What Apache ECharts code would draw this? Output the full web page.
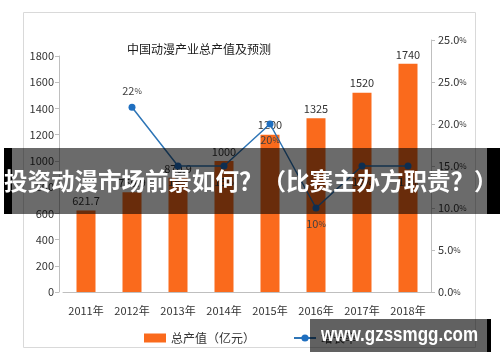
<!DOCTYPE html>
<html><head><meta charset="utf-8">
<script src="https://cdn.jsdelivr.net/npm/echarts@6/dist/echarts.min.js"></script>
<style>html,body{margin:0;padding:0;background:#fff}#c{width:500px;height:362px}</style>
</head><body><div id="c"></div>
<script>
const categories = ['2011年','2012年','2013年','2014年','2015年','2016年','2017年','2018年'];
const outputValues = [621.7, 759.9, 870.9, 1000, 1200, 1325, 1520, 1740];
const growthRates = [null, 22, 15, 15, 20, 10, 15, 15];
const growthLabelPos = ['bottom','top','bottom','bottom','bottom','bottom','bottom','bottom'];
const rightTickLabels = ['0.0','5.0','10.0','15.0','20.0','25.0','25.0'];
const titleText = '中国动漫产业总产值及预测';
const bannerText = '投资动漫市场前景如何？（比赛主办方职责？）';
const watermarkText = 'www.gzssmgg.com';

const FONT = '"Noto Sans CJK SC", "Noto Sans", sans-serif';
const chart = echarts.init(document.getElementById('c'), null, {renderer:'canvas'});
const axisLineStyle = {show:true, lineStyle:{color:'#bfbfbf', width:1}};

chart.setOption({
  animation:false,
  textStyle:{fontFamily:FONT},
  title:{text:titleText, left:122, top:38, textStyle:{fontSize:12, fontWeight:'normal', color:'#1a1a1a', fontFamily:FONT}},
  grid:[
    {left:63, right:69, top:56, bottom:70},
    {left:63, right:69, top:40, bottom:70}
  ],
  legend:{
    left:139, top:327, itemWidth:22, itemHeight:9, itemGap:38,
    textStyle:{fontSize:12, color:'#333', fontFamily:FONT},
    data:[{name:'总产值（亿元）', icon:'rect'}, {name:'增长率'}]
  },
  xAxis:[
    {type:'category', gridIndex:0, data:categories, axisLine:axisLineStyle, axisTick:{show:false},
     axisLabel:{interval:0, fontSize:11, color:'#333', margin:13, fontFamily:FONT}},
    {type:'category', gridIndex:1, data:categories, show:false}
  ],
  yAxis:[
    {type:'value', gridIndex:0, min:0, max:1800, interval:200, position:'left', offset:4,
     axisLine:axisLineStyle, axisTick:{show:true, length:4, lineStyle:{color:'#bfbfbf'}},
     splitLine:{show:false},
     axisLabel:{fontSize:11, color:'#333', margin:5, fontFamily:FONT, formatter:function(v){return String(v);}}},
    {type:'value', gridIndex:1, min:0, max:30, interval:5, position:'right',
     axisLine:axisLineStyle, axisTick:{show:true, length:4, lineStyle:{color:'#bfbfbf'}},
     splitLine:{show:false},
     axisLabel:{margin:7, fontFamily:FONT,
       formatter:function(v){ const i=Math.round(v/5); return '{n|'+rightTickLabels[i]+'}{p|%}'; },
       rich:{n:{fontSize:11, color:'#333', fontFamily:FONT}, p:{fontSize:8, color:'#333', fontFamily:FONT}}}}
  ],
  series:[
    {name:'总产值（亿元）', type:'bar', xAxisIndex:0, yAxisIndex:0, data:outputValues, barWidth:19,
     itemStyle:{color:'#FA6A1C'},
     label:{show:true, position:'top', distance:4, fontSize:11, color:'#333', fontFamily:FONT}},
    {name:'增长率', type:'line', xAxisIndex:1, yAxisIndex:1,
     data:growthRates.map((v,i)=>({value:v, label:{position:growthLabelPos[i]}})),
     symbol:'circle', symbolSize:7, connectNulls:false,
     lineStyle:{color:'#2E75B6', width:1.5}, itemStyle:{color:'#1F6FC0'},
     label:{show:true, distance:7, fontFamily:FONT,
       formatter:function(p){ return '{n|'+p.value+'}{p|%}'; },
       rich:{n:{fontSize:11, color:'#404040', fontFamily:FONT}, p:{fontSize:8, color:'#404040', fontFamily:FONT}}}}
  ],
  graphic:[
    {type:'rect', z:-1, shape:{x:23.5, y:12.5, width:452, height:335}, style:{fill:'none', stroke:'#d9d9d9', lineWidth:1}},
    {type:'rect', z:100, shape:{x:4, y:148, width:496, height:66}, style:{fill:'rgba(0,0,0,0.58)'}},
    {type:'rect', z:100, shape:{x:4, y:148, width:8, height:66}, style:{fill:'#000'}},
    {type:'rect', z:100, shape:{x:487, y:148, width:13, height:66}, style:{fill:'#000'}},
    {type:'text', z:101, x:4, y:181, style:{text:bannerText, fill:'#fff', font:'bold 23.5px '+FONT, textVerticalAlign:'middle', textAlign:'left'}},
    {type:'rect', z:100, shape:{x:310, y:319, width:177, height:33}, style:{fill:'rgba(0,0,0,0.62)'}},
    {type:'rect', z:100, shape:{x:487, y:319, width:4, height:33}, style:{fill:'#000'}},
    {type:'text', z:101, x:321, y:335, scaleX:0.85, style:{text:watermarkText, fill:'#fff', font:'bold 20px "Liberation Sans", Arial, sans-serif', textVerticalAlign:'middle', textAlign:'left'}}
  ]
});
</script></body></html>
